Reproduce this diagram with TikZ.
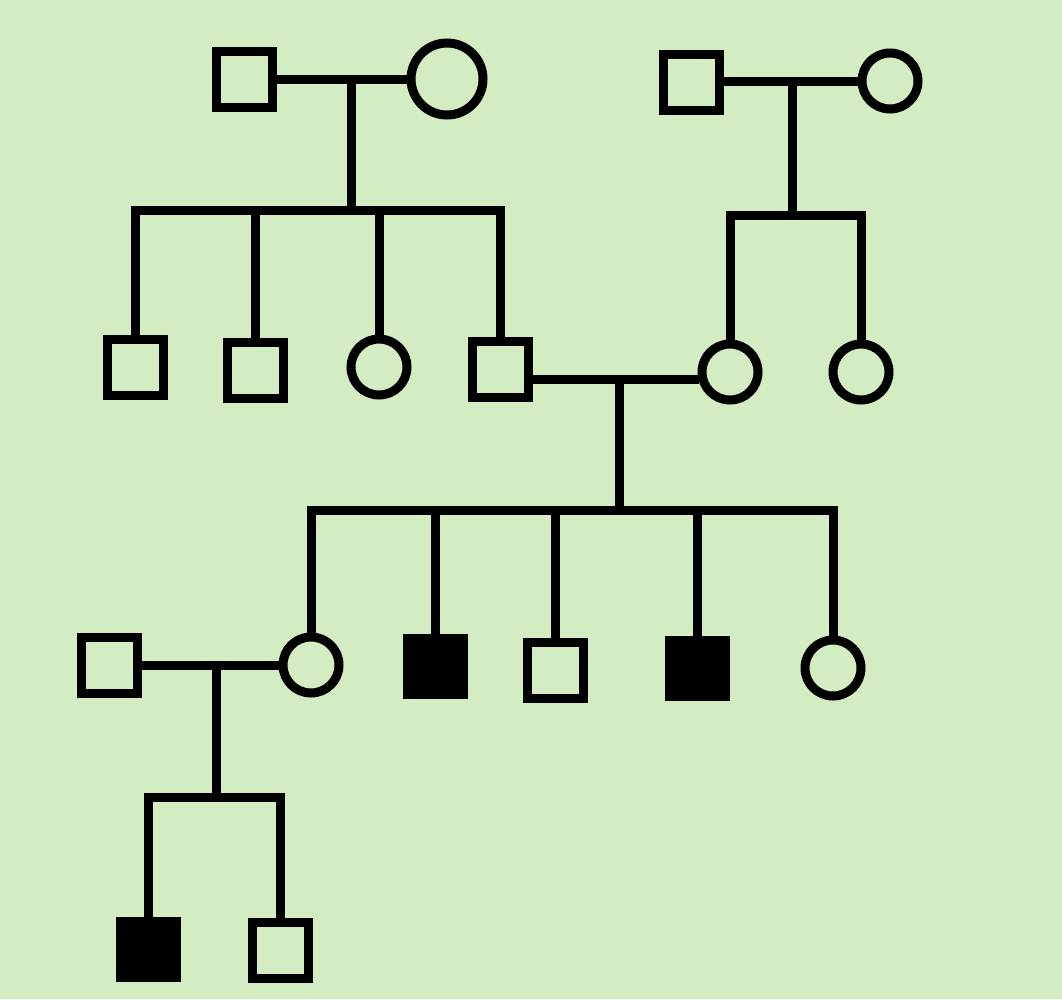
\documentclass[tikz,border=0pt]{standalone}
\definecolor{bg}{RGB}{211,236,193}
\begin{document}
\begin{tikzpicture}[x=1pt,y=-1pt,line width=9pt,
  male/.style={draw,rectangle,minimum size=56pt,inner sep=0pt,line width=9pt,fill=bg},
  female/.style={draw,circle,minimum size=56pt,inner sep=0pt,line width=9pt,fill=bg},
  aff/.style={fill=black}]
\fill[bg] (0,0) rectangle (1062,999);
\useasboundingbox (0,0) rectangle (1062,999);
% Generation I
\node[male] (I1) at (244,79) {};
\node[female,minimum size=72pt] (I2) at (447,79) {};
\node[male] (I3) at (691,82) {};
\node[female] (I4) at (890,81) {};
% Generation II
\node[male] (II1) at (135,367) {};
\node[male] (II2) at (255,370) {};
\node[female] (II3) at (379,367) {};
\node[male] (II4) at (500,369) {};
\node[female] (II5) at (730,372) {};
\node[female] (II6) at (861,372) {};
% Generation III
\node[male] (III1) at (109,665) {};
\node[female] (III2) at (311,665) {};
\node[male,aff] (III3) at (435,666) {};
\node[male] (III4) at (555,670) {};
\node[male,aff] (III5) at (697,668) {};
\node[female] (III6) at (833,668) {};
% Generation IV
\node[male,aff] (IV1) at (148,949) {};
\node[male] (IV2) at (280,950) {};
% coordinates
\coordinate (m1) at (351,79);
\coordinate (s1) at (351,210);
\coordinate (m1b) at (792,81);
\coordinate (s1b) at (792,215);
\coordinate (m2) at (619,379);
\coordinate (s2) at (619,510);
\coordinate (m3) at (216,665);
\coordinate (s3) at (216,797);
% family 1
\draw (I1.east) -- (I2.west);
\draw (m1) -- (s1);
\draw (II1.north) |- (II4.north |- s1) -- (II4.north);
\draw (II2.north) -- (II2.north |- s1);
\draw (II3.north) -- (II3.north |- s1);
% family 2
\draw (I3.east |- m1b) -- (I4.west |- m1b);
\draw (m1b) -- (s1b);
\draw (II5.north) |- (II6.north |- s1b) -- (II6.north);
% family 3
\draw (II4.east |- m2) -- ([xshift=1pt]II5.west |- m2);
\draw (m2) -- (s2);
\draw (III2.north) |- (III6.north |- s2) -- (III6.north);
\draw (III3.north) -- (III3.north |- s2);
\draw (III4.north) -- (III4.north |- s2);
\draw (III5.north) -- (III5.north |- s2);
% family 4
\draw (III1.east) -- (III2.west);
\draw (m3) -- (s3);
\draw (IV1.north) |- (IV2.north |- s3) -- (IV2.north);
\end{tikzpicture}
\end{document}
